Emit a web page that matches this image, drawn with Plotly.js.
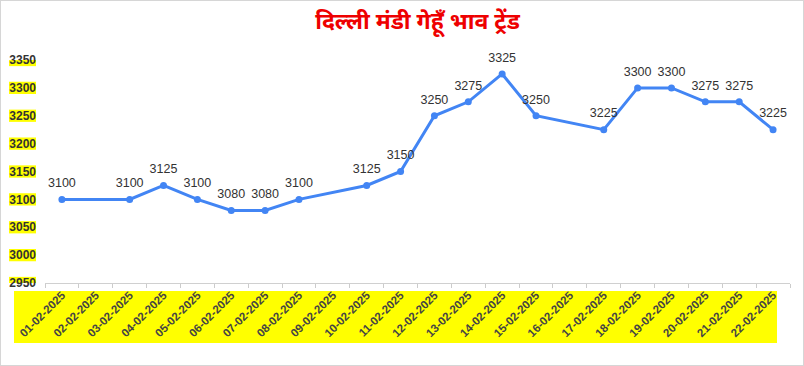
<!DOCTYPE html>
<html>
<head>
<meta charset="utf-8">
<script src="https://cdn.plot.ly/plotly-3.0.1.min.js"></script>
<style>
html,body{margin:0;padding:0;background:#fff;}
#chart{width:804px;height:366px;box-sizing:border-box;border:1px solid #d6d6d6;}
</style>
</head>
<body>
<div id="chart"></div>
<script>
const titleText = "दिल्ली मंडी गेहूँ भाव ट्रेंड";
const dates = ["01-02-2025","02-02-2025","03-02-2025","04-02-2025","05-02-2025","06-02-2025","07-02-2025","08-02-2025","09-02-2025","10-02-2025","11-02-2025","12-02-2025","13-02-2025","14-02-2025","15-02-2025","16-02-2025","17-02-2025","18-02-2025","19-02-2025","20-02-2025","21-02-2025","22-02-2025"];
const prices = [3100,null,3100,3125,3100,3080,3080,3100,null,3125,3150,3250,3275,3325,3250,null,3225,3300,3300,3275,3275,3225];
const yTicks = [2950,3000,3050,3100,3150,3200,3250,3300,3350];

const W = 802, H = 364;
const m = {l:44, r:13, t:59, b:82};
const pw = W - m.l - m.r, ph = H - m.t - m.b;
const px = v => (v - m.l) / pw;            // pixel x -> paper
const py = v => (H - m.b - v) / ph;        // pixel y -> paper

const shapes = [];
yTicks.forEach(t => {
  shapes.push({type:'rect', xref:'paper', yref:'y', x0:px(8), x1:px(35), y0:t-11, y1:t+11,
    fillcolor:'#ffff00', line:{width:0}, layer:'below'});
});
shapes.push({type:'rect', xref:'paper', yref:'paper', x0:px(13), x1:px(776), y0:py(290), y1:py(342),
  fillcolor:'#ffff00', line:{width:0}, layer:'below'});

const lineTrace = {
  x: dates, y: prices, type:'scatter', mode:'lines+markers',
  connectgaps:true,
  line:{color:'#4285f4', width:3},
  marker:{color:'#4285f4', size:7},
  hoverinfo:'x+y'
};

const labelTrace = {
  x: dates, y: prices, type:'scatter', mode:'markers+text',
  marker:{color:'rgba(0,0,0,0)', size:13},
  text: prices.map(v => v === null ? '' : String(v)),
  textposition:'top center',
  textfont:{family:'Arial, Liberation Sans, sans-serif', size:12.5, color:'#333333'},
  cliponaxis:false,
  hoverinfo:'skip'
};

const layout = {
  width:W, height:H,
  margin:m,
  paper_bgcolor:'#ffffff', plot_bgcolor:'#ffffff',
  showlegend:false,
  title:{text:'<b>'+titleText+'</b>', x:0.5, xref:'paper', y:0.945, yref:'container', yanchor:'middle',
    font:{family:'Noto Sans, Noto Sans Devanagari, sans-serif', size:23, color:'#ee0000'}},
  xaxis:{type:'category', categoryorder:'array', categoryarray:dates, range:[-0.5, dates.length-0.5],
    tickangle:-45, tickson:'boundaries', ticks:'outside', ticklen:4, tickcolor:'#cccccc',
    showline:true, linecolor:'#d0d0d0', linewidth:1, showgrid:false, zeroline:false,
    tickfont:{family:'Arial, Liberation Sans, sans-serif', size:11.5, color:'#444444', weight:'bold'}},
  yaxis:{range:[2950,3350], tickvals:yTicks, ticktext:yTicks.map(String),
    showgrid:false, zeroline:false, showline:false, ticks:'', ticklabelstandoff:8,
    tickfont:{family:'Arial, Liberation Sans, sans-serif', size:12, color:'#333333', weight:'bold'}},
  shapes:shapes
};

Plotly.newPlot('chart', [lineTrace, labelTrace], layout, {displayModeBar:false, staticPlot:true});
</script>
</body>
</html>
